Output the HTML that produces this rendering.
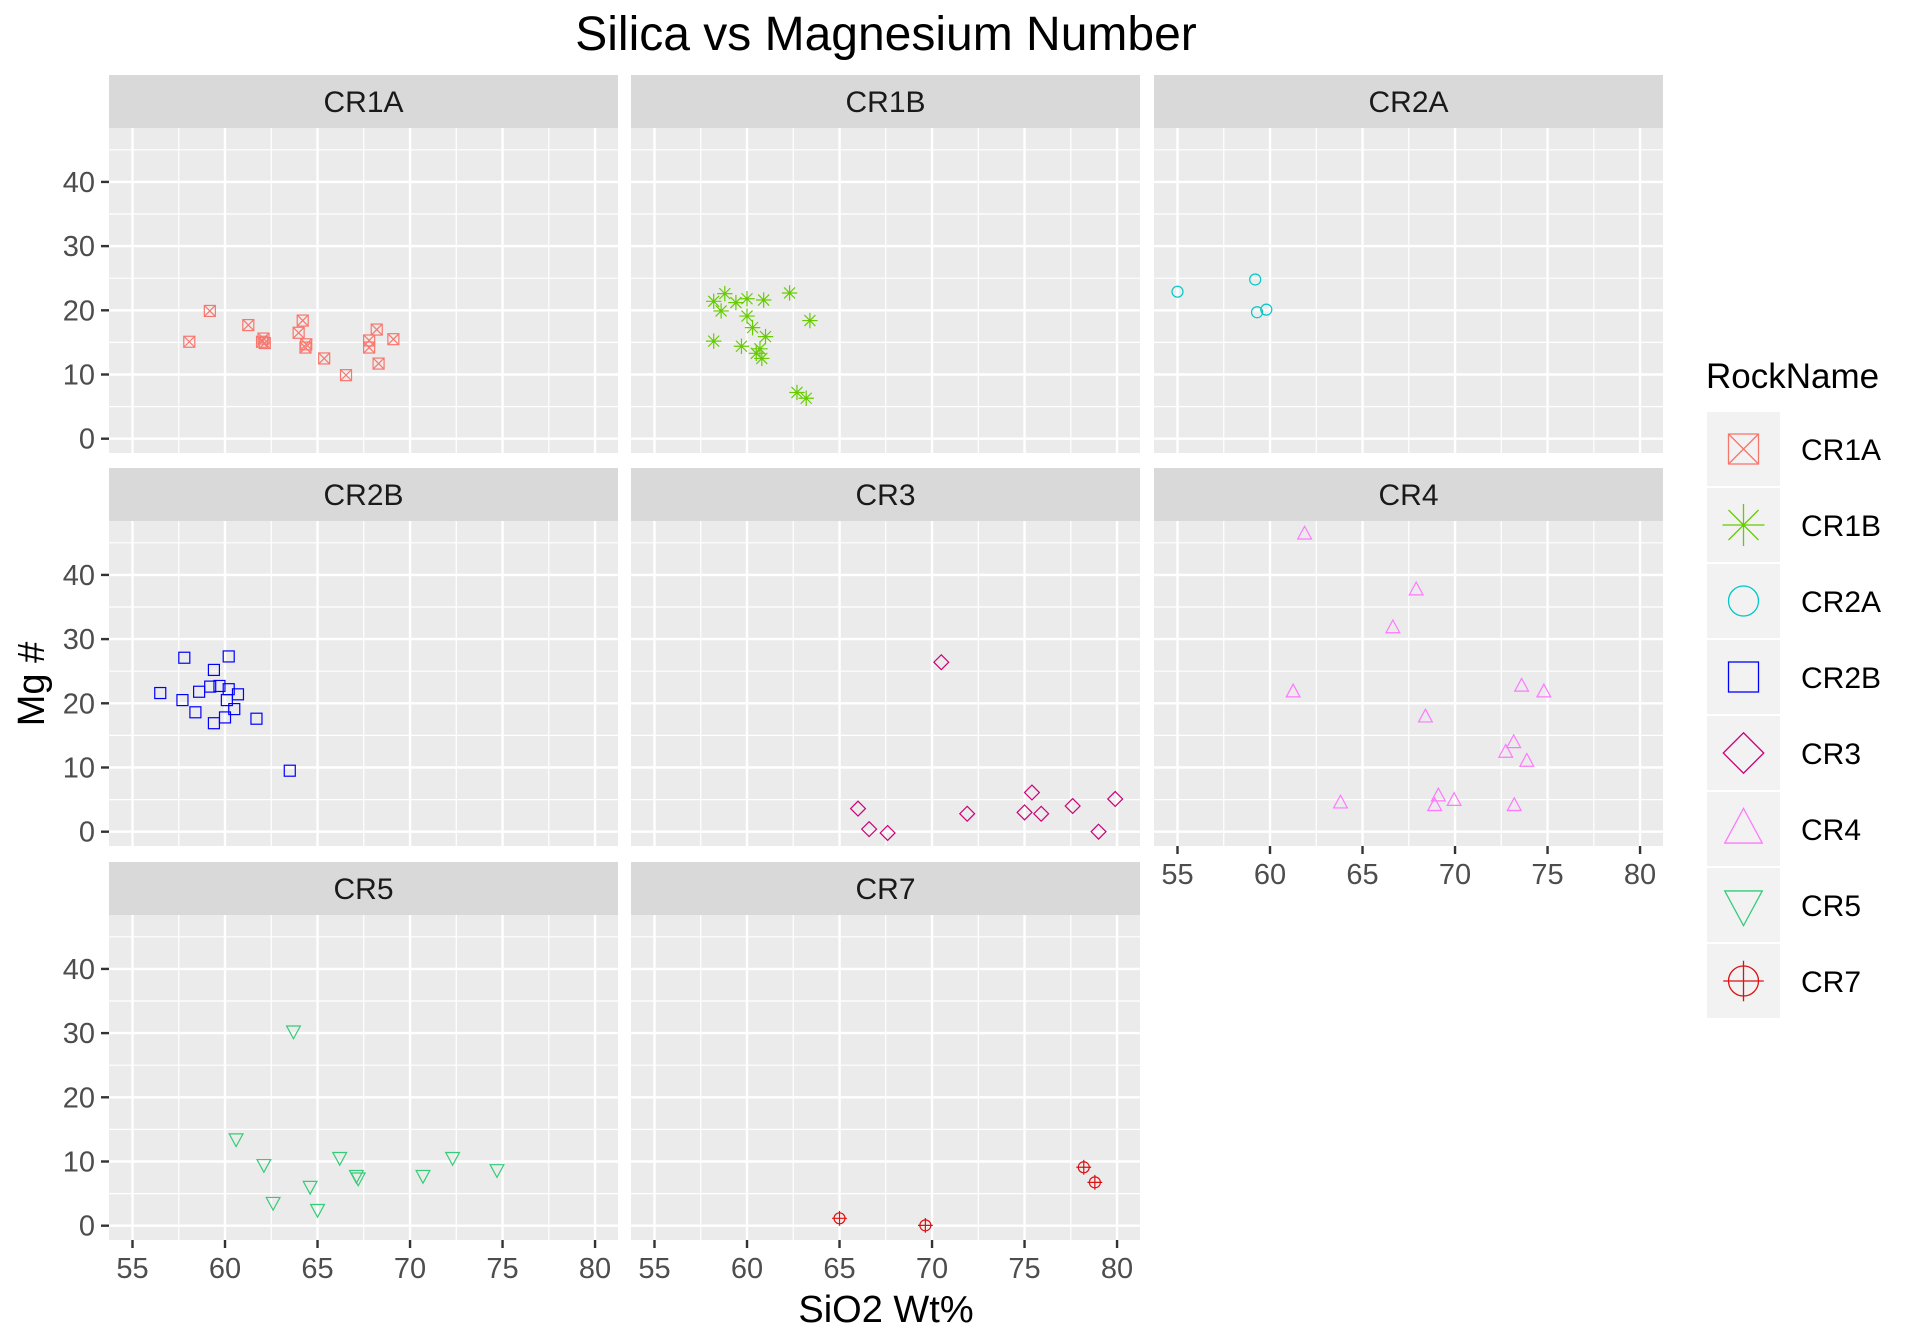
<!DOCTYPE html>
<html><head><meta charset="utf-8"><style>
html,body{margin:0;padding:0;background:#fff;}
svg{display:block;font-family:"Liberation Sans",Arial,sans-serif;}
</style></head><body>
<svg id="chart" width="1920" height="1344" viewBox="0 0 1920 1344" xmlns="http://www.w3.org/2000/svg">
<rect width="1920" height="1344" fill="#fff"/>
<text x="886" y="50" font-size="48" text-anchor="middle" fill="#000">Silica vs Magnesium Number</text>
<text x="886" y="1322" font-size="38" text-anchor="middle" fill="#000">SiO2 Wt%</text>
<text transform="translate(44,684) rotate(-90)" font-size="38" text-anchor="middle" fill="#000">Mg #</text>
<g id="panels"></g>
<g id="legend"></g>
</svg>
<script>
const rockNames = ["CR1A","CR1B","CR2A","CR2B","CR3","CR4","CR5","CR7"];
const rockColors = ["#F8766D","#66CC00","#00C8C8","#0000FF","#CC0077","#FF77FF","#33CC77","#DD1111"];
const rockShapes = ["squarex","asterisk","circle","square","diamond","triup","tridown","circleplus"];
const xTicks = [55,60,65,70,75,80];
const yTicks = [0,10,20,30,40];
const silCR1A = [58.07,59.18,61.26,62.08,62.15,62.0,63.98,64.2,64.39,64.35,65.36,66.54,67.79,67.79,68.2,68.3,69.1];
const mgCR1A  = [15.1,19.9,17.7,15.6,14.9,15.1,16.5,18.4,14.7,14.2,12.5,9.9,15.3,14.2,17.0,11.7,15.5];
const silCR1B = [58.2,58.2,58.8,58.6,59.4,60.0,60.0,60.3,59.7,60.5,60.7,61.0,60.8,60.9,62.3,63.4,62.7,63.2];
const mgCR1B  = [21.4,15.2,22.6,19.9,21.2,21.8,19.1,17.3,14.4,13.3,14.0,15.9,12.5,21.6,22.7,18.4,7.2,6.3];
const silCR2A = [55.0,59.2,59.3,59.8];
const mgCR2A  = [22.9,24.8,19.7,20.1];
const silCR2B = [56.5,57.8,57.7,58.4,58.6,59.2,59.4,59.7,59.4,60.2,60.2,60.1,60.0,60.5,60.7,61.7,63.5];
const mgCR2B  = [21.6,27.1,20.5,18.6,21.8,22.6,25.2,22.7,16.9,27.3,22.2,20.5,17.8,19.1,21.4,17.6,9.5];
const silCR3 = [66.0,66.6,67.6,70.5,71.9,75.0,75.4,75.9,77.6,79.0,79.9];
const mgCR3  = [3.6,0.4,-0.2,26.4,2.8,3.0,6.1,2.8,4.0,0.0,5.1];
const silCR4 = [61.87,67.9,66.64,61.25,73.6,74.8,68.4,73.17,72.74,73.88,63.81,69.1,68.9,69.95,73.2];
const mgCR4  = [46.4,37.7,31.8,21.8,22.7,21.8,17.9,13.9,12.4,11.0,4.5,5.6,4.1,4.9,4.1];
const silCR5 = [63.7,60.6,62.1,62.6,64.6,65.0,66.2,67.1,67.2,70.7,72.3,74.7];
const mgCR5  = [30.3,13.5,9.5,3.6,6.1,2.5,10.6,7.8,7.4,7.8,10.6,8.7];
const silCR7 = [65.0,69.64,78.2,78.8];
const mgCR7  = [1.15,0.05,9.1,6.75];
const silicaSeries = [silCR1A,silCR1B,silCR2A,silCR2B,silCR3,silCR4,silCR5,silCR7];
const mgSeries = [mgCR1A,mgCR1B,mgCR2A,mgCR2B,mgCR3,mgCR4,mgCR5,mgCR7];

const NS="http://www.w3.org/2000/svg";
const X0=53.73,X1=81.24,Y0=-2.23,Y1=48.4;
const PW=509,PH=325,SH=53;
const colL=[109,631,1154], rowT=[75,468,862];
function mk(tag,attrs,parent){const e=document.createElementNS(NS,tag);for(const k in attrs)e.setAttribute(k,attrs[k]);parent.appendChild(e);return e;}
function shape(g,type,cx,cy,r,col,sw){
  const st={fill:"none",stroke:col,"stroke-width":sw};
  let el;
  if(type==="square"||type==="squarex"){
    el=mk("rect",Object.assign({x:cx-r,y:cy-r,width:2*r,height:2*r},st),g);
    if(type==="squarex"){mk("path",Object.assign({d:`M${cx-r} ${cy-r}L${cx+r} ${cy+r}M${cx+r} ${cy-r}L${cx-r} ${cy+r}`},st),g);}
  }else if(type==="circle"||type==="circleplus"){
    el=mk("circle",Object.assign({cx:cx,cy:cy,r:r},st),g);
    if(type==="circleplus"){mk("path",Object.assign({d:`M${cx-r*1.35} ${cy}L${cx+r*1.35} ${cy}M${cx} ${cy-r*1.35}L${cx} ${cy+r*1.35}`},st),g);}
  }else if(type==="asterisk"){
    const a=r*1.4,b=r;
    el=mk("path",Object.assign({d:`M${cx-a} ${cy}L${cx+a} ${cy}M${cx} ${cy-a}L${cx} ${cy+a}M${cx-b} ${cy-b}L${cx+b} ${cy+b}M${cx+b} ${cy-b}L${cx-b} ${cy+b}`},st),g);
  }else if(type==="diamond"){
    const a=r*1.35;
    el=mk("path",Object.assign({d:`M${cx} ${cy-a}L${cx+a} ${cy}L${cx} ${cy+a}L${cx-a} ${cy}Z`},st),g);
  }else if(type==="triup"){
    const a=r*1.25;
    el=mk("path",Object.assign({d:`M${cx} ${cy-a*1.1}L${cx+a} ${cy+a*0.75}L${cx-a} ${cy+a*0.75}Z`},st),g);
  }else{
    const a=r*1.25;
    el=mk("path",Object.assign({d:`M${cx} ${cy+a*1.1}L${cx+a} ${cy-a*0.75}L${cx-a} ${cy-a*0.75}Z`},st),g);
  }
  return el;
}
const panels=document.getElementById("panels");
rockNames.forEach((name,i)=>{
  const c=i%3,r=Math.floor(i/3);
  const L=colL[c],T=rowT[r],PT=T+SH;
  const sx=v=>L+(v-X0)/(X1-X0)*PW;
  const sy=v=>PT+PH-(v-Y0)/(Y1-Y0)*PH;
  const g=mk("g",{},panels);
  
  
  const strip=mk("rect",{x:L,y:T,width:PW,height:SH,fill:"#D9D9D9"},g);
  
  
  const st=mk("text",{x:L+PW/2,y:T+37,"font-size":30,"text-anchor":"middle",fill:"#1A1A1A"},g);
  st.textContent=name;
  
  
  const bg=mk("rect",{x:L,y:PT,width:PW,height:PH,fill:"#EBEBEB"},g);
  
  
  for(let k=0;k<xTicks.length;k++){const v=xTicks[k]+2.5;if(v<X1)mk("line",{x1:sx(v),x2:sx(v),y1:PT,y2:PT+PH,stroke:"#fff","stroke-width":1.2},g);}
  for(let k=0;k<yTicks.length;k++){const v=yTicks[k]+5;mk("line",{x1:L,x2:L+PW,y1:sy(v),y2:sy(v),stroke:"#fff","stroke-width":1.2},g);}
  xTicks.forEach(v=>mk("line",{x1:sx(v),x2:sx(v),y1:PT,y2:PT+PH,stroke:"#fff","stroke-width":2.4},g));
  yTicks.forEach(v=>mk("line",{x1:L,x2:L+PW,y1:sy(v),y2:sy(v),stroke:"#fff","stroke-width":2.4},g));
  if(c===0){
    yTicks.forEach(v=>{
      mk("line",{x1:L-8,x2:L,y1:sy(v),y2:sy(v),stroke:"#333","stroke-width":2.4},g);
      const t=mk("text",{x:L-14,y:sy(v)+10,"font-size":29,"text-anchor":"end",fill:"#4D4D4D"},g);
      t.textContent=v;
      
      
    });
  }
  if(r===2||(r===1&&c===2)){
    xTicks.forEach(v=>{
      mk("line",{x1:sx(v),x2:sx(v),y1:PT+PH,y2:PT+PH+8,stroke:"#333","stroke-width":2.4},g);
      const t=mk("text",{x:sx(v),y:PT+PH+38,"font-size":29,"text-anchor":"middle",fill:"#4D4D4D"},g);
      t.textContent=v;
      
      
    });
  }
  const xs=silicaSeries[i],ys=mgSeries[i];
  for(let k=0;k<xs.length;k++){
    const p=shape(g,rockShapes[i],sx(xs[k]),sy(ys[k]),5.5,rockColors[i],1.2);
    
    
  }
});
const lg=document.getElementById("legend");


const lt=mk("text",{x:1706,y:388,"font-size":35,fill:"#000"},lg);
lt.textContent="RockName";


rockNames.forEach((name,i)=>{
  const y=412+i*76;
  const e=mk("g",{},lg);
  
  
  mk("rect",{x:1707,y:y,width:73,height:74,fill:"#F2F2F2"},e);
  shape(e,rockShapes[i],1743.5,y+37,15,rockColors[i],1.3);
  const t=mk("text",{x:1801,y:y+48,"font-size":30,fill:"#000"},e);
  t.textContent=name;
});
</script>
</body></html>
